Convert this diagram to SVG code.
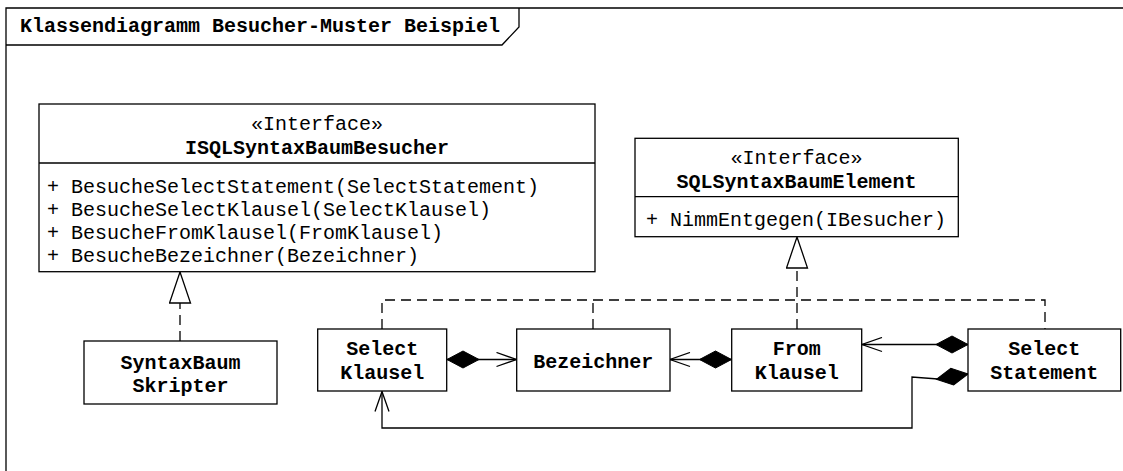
<svg xmlns="http://www.w3.org/2000/svg" width="1123" height="471" viewBox="0 0 1123 471">
<style>
.box{fill:#fff;stroke:#000;stroke-width:1.3}
.ln{fill:none;stroke:#000;stroke-width:1.3}
.dash{fill:none;stroke:#000;stroke-width:1.3;stroke-dasharray:10 6}
.t{font-family:"Liberation Mono","Courier New",monospace;font-size:20px;fill:#000}
.b{font-weight:bold}
.c{text-anchor:middle}
</style>
<defs>
<marker id="open" markerUnits="userSpaceOnUse" viewBox="-1 -1 23 16" refX="20" refY="7" markerWidth="23" markerHeight="16" orient="auto">
<path d="M0,0 L20,7 L0,14" fill="none" stroke="#000" stroke-width="1.3"/>
</marker>
<marker id="dia" markerUnits="userSpaceOnUse" viewBox="-1 -1 34 19" refX="0" refY="8.5" markerWidth="34" markerHeight="19" orient="auto">
<path d="M0,8.5 L16,0 L32,8.5 L16,17 Z" fill="#000" stroke="#000" stroke-width="1"/>
</marker>
<marker id="tri" markerUnits="userSpaceOnUse" viewBox="-1 -1 33 24" refX="31" refY="10.5" markerWidth="33" markerHeight="24" orient="auto">
<path d="M0,0 L31,10.5 L0,21 Z" fill="#fff" stroke="#000" stroke-width="1.3"/>
</marker>
</defs>

<g id="frame">
<path class="ln" d="M6,471 V8 H1123"/>
<path class="ln" d="M6,45 H502 L519,27 V8"/>
<text class="t b" x="20" y="32">Klassendiagramm Besucher-Muster Beispiel</text>
</g>

<g id="connectors">
<path class="dash" d="M382,329 V300 H1045 V329"/>
<path class="dash" d="M593,329 V300"/>
<path class="dash" d="M797,329 V237" marker-end="url(#tri)"/>
<path class="dash" d="M180,341 V272" marker-end="url(#tri)"/>
<path class="ln" d="M447,359.5 H516.5" marker-start="url(#dia)" marker-end="url(#open)"/>
<path class="ln" d="M731.5,359.5 H670" marker-start="url(#dia)" marker-end="url(#open)"/>
<path class="ln" d="M968,344.5 H862" marker-start="url(#dia)" marker-end="url(#open)"/>
<path class="ln" d="M968,374 L938,379 L912,377 V428 H382 V391.5" marker-start="url(#dia)" marker-end="url(#open)"/>
</g>

<g id="ISQLSyntaxBaumBesucher">
<rect class="box" x="39" y="104" width="556" height="167.7"/>
<line class="ln" x1="39" y1="163" x2="595" y2="163"/>
<text class="t c" x="317" y="130">«Interface»</text>
<text class="t b c" x="317" y="154">ISQLSyntaxBaumBesucher</text>
<text class="t" x="47" y="193">+ BesucheSelectStatement(SelectStatement)</text>
<text class="t" x="47" y="216">+ BesucheSelectKlausel(SelectKlausel)</text>
<text class="t" x="47" y="239">+ BesucheFromKlausel(FromKlausel)</text>
<text class="t" x="47" y="262">+ BesucheBezeichner(Bezeichner)</text>
</g>

<g id="SQLSyntaxBaumElement">
<rect class="box" x="635" y="138.3" width="323.3" height="98.4"/>
<line class="ln" x1="635" y1="196.7" x2="958.3" y2="196.7"/>
<text class="t c" x="796.6" y="164">«Interface»</text>
<text class="t b c" x="796.6" y="187.7">SQLSyntaxBaumElement</text>
<text class="t" x="646" y="226">+ NimmEntgegen(IBesucher)</text>
</g>

<g id="SyntaxBaumSkripter">
<rect class="box" x="84" y="341" width="193" height="63"/>
<text class="t b c" x="180.5" y="368.5">SyntaxBaum</text>
<text class="t b c" x="180.5" y="392">Skripter</text>
</g>

<g id="SelectKlausel">
<rect class="box" x="317.7" y="329" width="129" height="62"/>
<text class="t b c" x="382.2" y="355">Select</text>
<text class="t b c" x="382.2" y="379">Klausel</text>
</g>

<g id="Bezeichner">
<rect class="box" x="516.7" y="329" width="153.3" height="62"/>
<text class="t b c" x="593.3" y="367.5">Bezeichner</text>
</g>

<g id="FromKlausel">
<rect class="box" x="731.7" y="329" width="130" height="62"/>
<text class="t b c" x="796.7" y="355">From</text>
<text class="t b c" x="796.7" y="379">Klausel</text>
</g>

<g id="SelectStatement">
<rect class="box" x="968" y="329" width="152.7" height="62"/>
<text class="t b c" x="1044.3" y="355">Select</text>
<text class="t b c" x="1044.3" y="379">Statement</text>
</g>
</svg>
